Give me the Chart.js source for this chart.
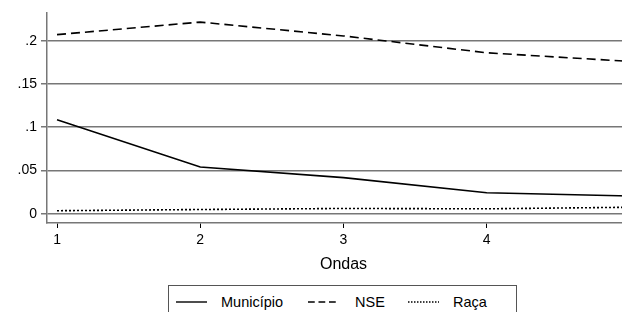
<!DOCTYPE html>
<html>
<head>
<meta charset="utf-8">
<script src="https://cdn.jsdelivr.net/npm/chart.js@4"></script>
<style>
  html, body { margin: 0; padding: 0; background: #fff; }
  body { width: 622px; height: 312px; overflow: hidden; position: relative; font-family: "Liberation Sans", Arial, sans-serif; }
  #wrap { position: absolute; left: 0; top: 0; width: 650px; height: 280px; }
  #legenda {
    position: absolute; left: 168px; top: 285px; width: 349px; height: 40px;
    border: 1px solid #555; box-sizing: border-box; background: #fff;
    font-size: 14.5px; color: #000;
  }
  #legenda svg, #legenda span { position: absolute; }
  #legenda svg { top: 13px; }
  #legenda span { top: 7px; line-height: 18px; }
</style>
</head>
<body>
<div id="wrap"><canvas id="grafico" width="650" height="280"></canvas></div>
<div id="legenda"></div>

<script>
// Dados
const ondas = [1, 2, 3, 4, 5];
const municipio = [0.1087, 0.054, 0.0417, 0.0241, 0.0204];
const nse = [0.207, 0.2215, 0.2055, 0.186, 0.176];
const raca = [0.0034, 0.0048, 0.006, 0.0056, 0.0074];

const yTicks = [0, 0.05, 0.1, 0.15, 0.2];
const yTickLabels = ["0", ".05", ".1", ".15", ".2"];
const xTickLabels = ["1", "2", "3", "4", "5"];

const series = [
    { label: "Município", valores: municipio, dash: [] },
    { label: "NSE", valores: nse, dash: [9, 5] },
    { label: "Raça", valores: raca, dash: [2, 2] }
];

const fonte = "'Liberation Sans', Arial, sans-serif";

new Chart(document.getElementById("grafico").getContext("2d"), {
    type: "line",
    data: {
        datasets: series.map(s => ({
            label: s.label,
            data: ondas.map((o, i) => ({ x: o, y: s.valores[i] })),
            borderColor: "#000",
            borderWidth: 1.6,
            borderDash: s.dash,
            pointRadius: 0,
            tension: 0,
            fill: false
        }))
    },
    options: {
        responsive: false,
        animation: false,
        layout: { padding: { top: 5, right: 10, left: 0, bottom: 0 } },
        plugins: { legend: { display: false }, tooltip: { enabled: false } },
        scales: {
            x: {
                type: "linear",
                min: 0.93,
                max: 5.07,
                afterBuildTicks: (scale) => { scale.ticks = ondas.map(v => ({ value: v })); },
                afterFit: (scale) => { scale.height = 57; },
                ticks: {
                    color: "#000",
                    padding: 4,
                    maxRotation: 0,
                    font: { family: fonte, size: 14 },
                    callback: (v, i) => xTickLabels[i]
                },
                grid: { drawOnChartArea: false, drawTicks: true, tickLength: 5, color: "#000" },
                border: { color: "#777", width: 1.5 },
                title: {
                    display: true,
                    text: "Ondas",
                    color: "#000",
                    font: { family: fonte, size: 16 },
                    padding: { top: 0, bottom: 6 }
                }
            },
            y: {
                min: -0.0108,
                max: 0.2327,
                afterBuildTicks: (scale) => { scale.ticks = yTicks.map(v => ({ value: v })); },
                afterFit: (scale) => { scale.width = 47; },
                ticks: {
                    color: "#000",
                    padding: 4,
                    font: { family: fonte, size: 14 },
                    callback: (v, i) => yTickLabels[i]
                },
                grid: { color: "#777", lineWidth: 1.5, tickLength: 6 },
                border: { color: "#777", width: 1.5 }
            }
        }
    }
});

// Legenda com moldura, como no original
const legenda = document.getElementById("legenda");
const amostraX = [7, 139, 239];
const textoX = [52, 186, 284];
series.forEach((s, i) => {
    const dash = s.dash.length ? s.dash.map(d => d * 0.75).join(",") : "none";
    legenda.insertAdjacentHTML("beforeend",
        '<svg style="left:' + amostraX[i] + 'px" width="31" height="6"><line x1="0" y1="3" x2="31" y2="3" stroke="#000" stroke-width="1.4" stroke-dasharray="' + dash + '"/></svg>' +
        '<span style="left:' + textoX[i] + 'px">' + s.label + '</span>');
});
</script>
</body>
</html>
